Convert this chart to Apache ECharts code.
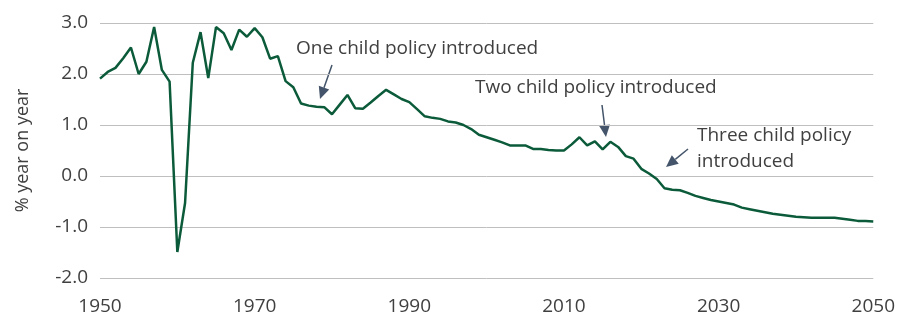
<!DOCTYPE html>
<html><head><meta charset="utf-8">
<script src="https://cdn.jsdelivr.net/npm/echarts@6/dist/echarts.min.js"></script>
<style>html,body{margin:0;padding:0;background:#fff}#c{width:898px;height:318px}</style>
</head><body><div id="c"></div>
<script>
const years = [1950,1951,1952,1953,1954,1955,1956,1957,1958,1959,
1960,1961,1962,1963,1964,1965,1966,1967,1968,1969,
1970,1971,1972,1973,1974,1975,1976,1977,1978,1979,
1980,1981,1982,1983,1984,1985,1986,1987,1988,1989,
1990,1991,1992,1993,1994,1995,1996,1997,1998,1999,
2000,2001,2002,2003,2004,2005,2006,2007,2008,2009,
2010,2011,2012,2013,2014,2015,2016,2017,2018,2019,
2020,2021,2022,2023,2024,2025,2026,2027,2028,2029,
2030,2031,2032,2033,2034,2035,2036,2037,2038,2039,
2040,2041,2042,2043,2044,2045,2046,2047,2048,2049,2050];
const growth = [1.91,2.04,2.12,2.31,2.52,2.00,2.24,2.92,2.08,1.85,
-1.49,-0.53,2.22,2.82,1.92,2.92,2.80,2.47,2.87,2.73,
2.90,2.72,2.30,2.35,1.86,1.74,1.42,1.38,1.36,1.35,
1.21,1.40,1.59,1.33,1.32,1.44,1.57,1.69,1.60,1.51,
1.45,1.31,1.17,1.14,1.12,1.07,1.05,1.00,0.92,0.81,
0.76,0.71,0.66,0.60,0.60,0.60,0.53,0.53,0.51,0.50,
0.50,0.62,0.76,0.60,0.68,0.52,0.67,0.57,0.39,0.34,
0.14,0.05,-0.06,-0.24,-0.27,-0.28,-0.33,-0.39,-0.43,-0.47,
-0.50,-0.53,-0.56,-0.62,-0.65,-0.68,-0.71,-0.74,-0.76,-0.78,
-0.80,-0.81,-0.82,-0.82,-0.82,-0.82,-0.84,-0.86,-0.88,-0.88,-0.89];
const xTicks = [1950,1970,1990,2010,2030,2050];
const yTicks = [-2,-1,0,1,2,3];
const yAxisName = '% year on year';
const notes = ['One child policy introduced','Two child policy introduced','Three child policy\nintroduced'];

const FONT = '"Open Sans", "Noto Sans", sans-serif';
const TXT = '#404040';
const ARROW = '#44546a';

function arrow(x1,y1,x2,y2){
  const dx=x2-x1, dy=y2-y1, L=Math.hypot(dx,dy), ux=dx/L, uy=dy/L;
  const hl=12, hw=5.5;
  const bx=x2-ux*hl, by=y2-uy*hl;
  return [
    {type:'line', shape:{x1:x1,y1:y1,x2:bx,y2:by}, style:{stroke:ARROW,lineWidth:1.5}},
    {type:'polygon', shape:{points:[[x2,y2],[bx-uy*hw,by+ux*hw],[bx+uy*hw,by-ux*hw]]}, style:{fill:ARROW}}
  ];
}
function note(text,x,y){
  return {type:'text', left:x, top:y, style:{text:text, fill:TXT, font:'19px '+FONT, lineHeight:26}};
}

const chart = echarts.init(document.getElementById('c'));
chart.setOption({
  animation:false,
  backgroundColor:'#fff',
  grid:{left:100,right:23,top:23,bottom:40},
  xAxis:{type:'value',min:xTicks[0],max:xTicks[xTicks.length-1],interval:20,
    axisLine:{show:false},axisTick:{show:false},splitLine:{show:false},
    axisLabel:{color:TXT,fontFamily:FONT,fontSize:19,margin:19,formatter:v=>String(v)}},
  yAxis:{type:'value',min:yTicks[0],max:yTicks[yTicks.length-1],interval:1,
    name:yAxisName,nameLocation:'middle',nameGap:68,nameRotate:90,
    nameTextStyle:{color:TXT,fontFamily:FONT,fontSize:18},
    axisLine:{show:false},axisTick:{show:false},
    splitLine:{lineStyle:{color:'#bfbfbf',width:1}},
    axisLabel:{color:TXT,fontFamily:FONT,fontSize:19,margin:12,formatter:v=>v.toFixed(1)}},
  series:[{type:'line',data:years.map((y,i)=>[y,growth[i]]),showSymbol:false,
    lineStyle:{color:'#0b5b3a',width:2.5},itemStyle:{color:'#0b5b3a'}}],
  graphic:[
    note(notes[0],296,36),
    note(notes[1],475,75),
    note(notes[2],697,123),
    ...arrow(332,65,320,99),
    ...arrow(602,105,606,137),
    ...arrow(688,149,666,167)
  ]
});
</script></body></html>
